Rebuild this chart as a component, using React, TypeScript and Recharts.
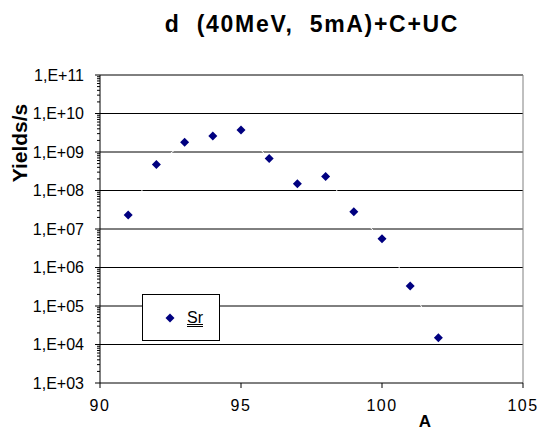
import React from 'react';
import { ScatterChart, Scatter, XAxis, YAxis, ReferenceLine, Legend } from 'recharts';

// Données (rendements Sr en fonction de A)
const massNumbers = [91, 92, 93, 94, 95, 96, 97, 98, 99, 100, 101, 102];
const srYields = [2.3e7, 4.7e8, 1.8e9, 2.6e9, 3.7e9, 6.8e8, 1.5e8, 2.3e8, 2.8e7, 5.6e6, 3.3e5, 1.5e4];

const xTicks = [90, 95, 100, 105];
const yMajorTicks = [1e3, 1e4, 1e5, 1e6, 1e7, 1e8, 1e9, 1e10, 1e11];
const yMinorTicks = yMajorTicks.slice(0, -1).flatMap(d => [2, 3, 4, 5, 6, 7, 8, 9].map(m => m * d));
const yAllTicks = [...yMajorTicks, ...yMinorTicks].sort((a, b) => a - b);

const FONT = '"Liberation Sans", Arial, sans-serif';
const NAVY = '#000080';

const chartData = massNumbers.map((a, i) => ({ a, y: srYields[i] }));

const isMajor = (v: number) => yMajorTicks.some(m => Math.abs(m - v) / m < 1e-9);

// Formate "1,E+07"
const formatExp = (v: number): string => {
  const e = Math.round(Math.log10(v));
  return `1,E+${String(e).padStart(2, '0')}`;
};

// Graduation de l'axe Y : grande avec texte, petite sans
const YTick = (props: any) => {
  const { x, y, payload } = props;
  const major = isMajor(payload.value);
  return (
    <g>
      <line x1={x - (major ? 5 : 3)} x2={x} y1={y} y2={y} stroke="#000" />
      {major && (
        <text x={x - 16} y={y} dy="0.35em" textAnchor="end" fontFamily={FONT} fontSize={16} fill="#000">
          {formatExp(payload.value)}
        </text>
      )}
    </g>
  );
};

const Diamond = (props: any) => {
  const { cx, cy } = props;
  if (cx == null || cy == null) return null;
  const r = 4.5;
  return <polygon points={`${cx},${cy - r} ${cx + r},${cy} ${cx},${cy + r} ${cx - r},${cy}`} fill={NAVY} />;
};

const LegendBox = () => (
  <div
    style={{
      width: 76,
      height: 45,
      border: '1px solid #000',
      background: '#fff',
      display: 'flex',
      alignItems: 'center',
      fontFamily: FONT,
      fontSize: 16,
    }}
  >
    <svg width={14} height={14} style={{ marginLeft: 20 }}>
      <polygon points="7,2.5 11.5,7 7,11.5 2.5,7" fill={NAVY} />
    </svg>
    <span style={{ marginLeft: 10, textDecoration: 'underline double', color: '#000' }}>Sr</span>
  </div>
);

export default function App() {
  return (
    <div style={{ position: 'absolute', left: 0, top: 0, width: 544, height: 432, background: '#fff' }}>
      <ScatterChart width={544} height={432} margin={{ top: 75, right: 21, bottom: 0, left: 0 }}>
        <text
          x={312}
          y={32}
          textAnchor="middle"
          fontFamily={FONT}
          fontSize={23}
          fontWeight="bold"
          letterSpacing={1.7}
          fill="#000"
          style={{ whiteSpace: 'pre' }}
        >
          d  (40MeV,  5mA)+C+UC
        </text>
        <text
          x={19}
          y={143}
          transform="rotate(-90 19 143)"
          textAnchor="middle"
          dominantBaseline="central"
          fontFamily={FONT}
          fontSize={21}
          fontWeight="bold"
          fill="#000"
        >
          Yields/s
        </text>
        <XAxis
          type="number"
          dataKey="a"
          domain={[90, 105]}
          ticks={xTicks}
          interval={0}
          height={49}
          tickSize={5}
          tickMargin={12}
          stroke="#000"
          tick={{ fontFamily: FONT, fontSize: 16, fill: '#000', letterSpacing: 1.5 }}
          label={(props: any) => {
            const vb = props.viewBox;
            return (
              <text x={vb.x + 325} y={vb.y + 44} textAnchor="middle" fontFamily={FONT} fontSize={17} fontWeight="bold" fill="#000">
                A
              </text>
            );
          }}
        />
        <YAxis
          type="number"
          dataKey="y"
          scale="log"
          domain={[1e3, 1e11]}
          ticks={yAllTicks}
          interval={0}
          width={100}
          tickSize={0}
          tickMargin={0}
          tickLine={false}
          stroke="#000"
          allowDataOverflow
          tick={<YTick />}
        />
        {yMajorTicks.slice(1).map(v => (
          <ReferenceLine key={v} y={v} stroke="#000" />
        ))}
        <ReferenceLine x={105} stroke="#808080" />
        <Legend
          layout="horizontal"
          verticalAlign="middle"
          align="center"
          content={<LegendBox />}
          wrapperStyle={{ position: 'absolute', left: 142, top: 294, width: 78, height: 47 }}
        />
        <Scatter
          name="Sr"
          data={chartData}
          fill={NAVY}
          shape={<Diamond />}
          line={{ stroke: '#fff', strokeWidth: 1 }}
          isAnimationActive={false}
        />
      </ScatterChart>
    </div>
  );
}
